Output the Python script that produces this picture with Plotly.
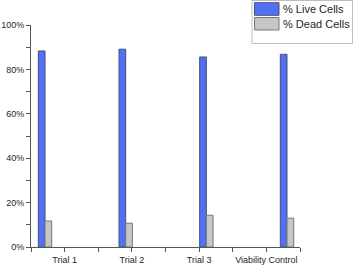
import plotly.graph_objects as go

categories = ["Trial 1", "Trial 2", "Trial 3", "Viability Control"]
series_names = ["% Live Cells", "% Dead Cells"]
live_cells = [88.3, 89.1, 85.6, 86.8]
dead_cells = [11.7, 10.7, 14.3, 13.0]
y_ticks = [0, 20, 40, 60, 80, 100]
y_tick_labels = [f"{v}%" for v in y_ticks]

FONT = "Liberation Sans, Arial, sans-serif"
BLUE, BLUE_EDGE = "#5270F5", "#4a4f75"
GRAY, GRAY_EDGE = "#C6C6C6", "#777777"
AXIS = "#555555"
TEXT = "#262626"

W, H = 354, 266
ML, MR, MT, MB = 31, 54, 25, 19
PW, PH = W - ML - MR, H - MT - MB


def px(x):
    return (x - ML) / PW


def py(y):
    return (H - MB - y) / PH


fig = go.Figure()
# category axis carrier (no visible marks)
fig.add_trace(go.Scatter(
    x=list(range(len(categories))), y=[None] * len(categories),
    mode="markers", showlegend=False, hoverinfo="skip", xaxis="x",
))
fig.add_trace(go.Bar(
    x=categories, y=live_cells, name=series_names[0], xaxis="x2",
    marker=dict(color=BLUE, line=dict(color=BLUE_EDGE, width=1)),
))
fig.add_trace(go.Bar(
    x=categories, y=dead_cells, name=series_names[1], xaxis="x2",
    marker=dict(color=GRAY, line=dict(color=GRAY_EDGE, width=1)),
))

# legend (drawn to match the reference's boxed legend)
shapes = [
    dict(type="rect", xref="paper", yref="paper",
         x0=px(252), x1=px(352.5), y0=py(43.5), y1=py(0.5),
         line=dict(color="#bdbdbd", width=1), fillcolor="white", layer="above"),
    dict(type="rect", xref="paper", yref="paper",
         x0=px(254.5), x1=px(279), y0=py(15.3), y1=py(2.7),
         line=dict(color=BLUE_EDGE, width=1), fillcolor=BLUE, layer="above"),
    dict(type="rect", xref="paper", yref="paper",
         x0=px(254.5), x1=px(279), y0=py(30), y1=py(17.5),
         line=dict(color=GRAY_EDGE, width=1), fillcolor=GRAY, layer="above"),
]
annotations = [
    dict(xref="paper", yref="paper", x=px(281), y=py(9), text=series_names[0],
         xanchor="left", yanchor="middle", showarrow=False,
         font=dict(size=11, color=TEXT, family=FONT)),
    dict(xref="paper", yref="paper", x=px(281), y=py(24), text=series_names[1],
         xanchor="left", yanchor="middle", showarrow=False,
         font=dict(size=11, color=TEXT, family=FONT)),
]

fig.update_layout(
    width=W, height=H,
    margin=dict(l=ML, r=MR, t=MT, b=MB, autoexpand=False),
    paper_bgcolor="white", plot_bgcolor="white",
    font=dict(family=FONT, size=9, color=TEXT),
    barmode="group", bargap=0.834, bargroupgap=0,
    showlegend=False,
    shapes=shapes, annotations=annotations,
    xaxis=dict(
        type="linear", range=[-0.5, len(categories) - 0.5],
        tickvals=list(range(len(categories))), ticktext=categories,
        ticks="outside", ticklen=4, tickcolor=AXIS, showgrid=False,
        showline=True, linecolor=AXIS, linewidth=1, zeroline=False,
        minor=dict(tick0=0.5, dtick=1, ticks="outside", ticklen=4, tickcolor=AXIS, showgrid=False),
        tickfont=dict(size=9, color=TEXT), fixedrange=True,
    ),
    xaxis2=dict(
        type="category", overlaying="x", anchor="y", range=[-0.174, 3.161],
        visible=False, showgrid=False, fixedrange=True,
    ),
    yaxis=dict(
        range=[0, 100], tickmode="array", tickvals=y_ticks, ticktext=y_tick_labels,
        ticks="outside", ticklen=4, tickcolor=AXIS, showgrid=False,
        showline=True, linecolor=AXIS, linewidth=1, zeroline=False,
        minor=dict(dtick=10, ticks="outside", ticklen=4, tickcolor=AXIS, showgrid=False),
        tickfont=dict(size=9, color=TEXT), fixedrange=True,
    ),
)

fig.write_html(
    "out.html",
    config={"displayModeBar": False},
    post_script="document.body.style.margin='0';document.body.style.overflow='hidden';",
)
